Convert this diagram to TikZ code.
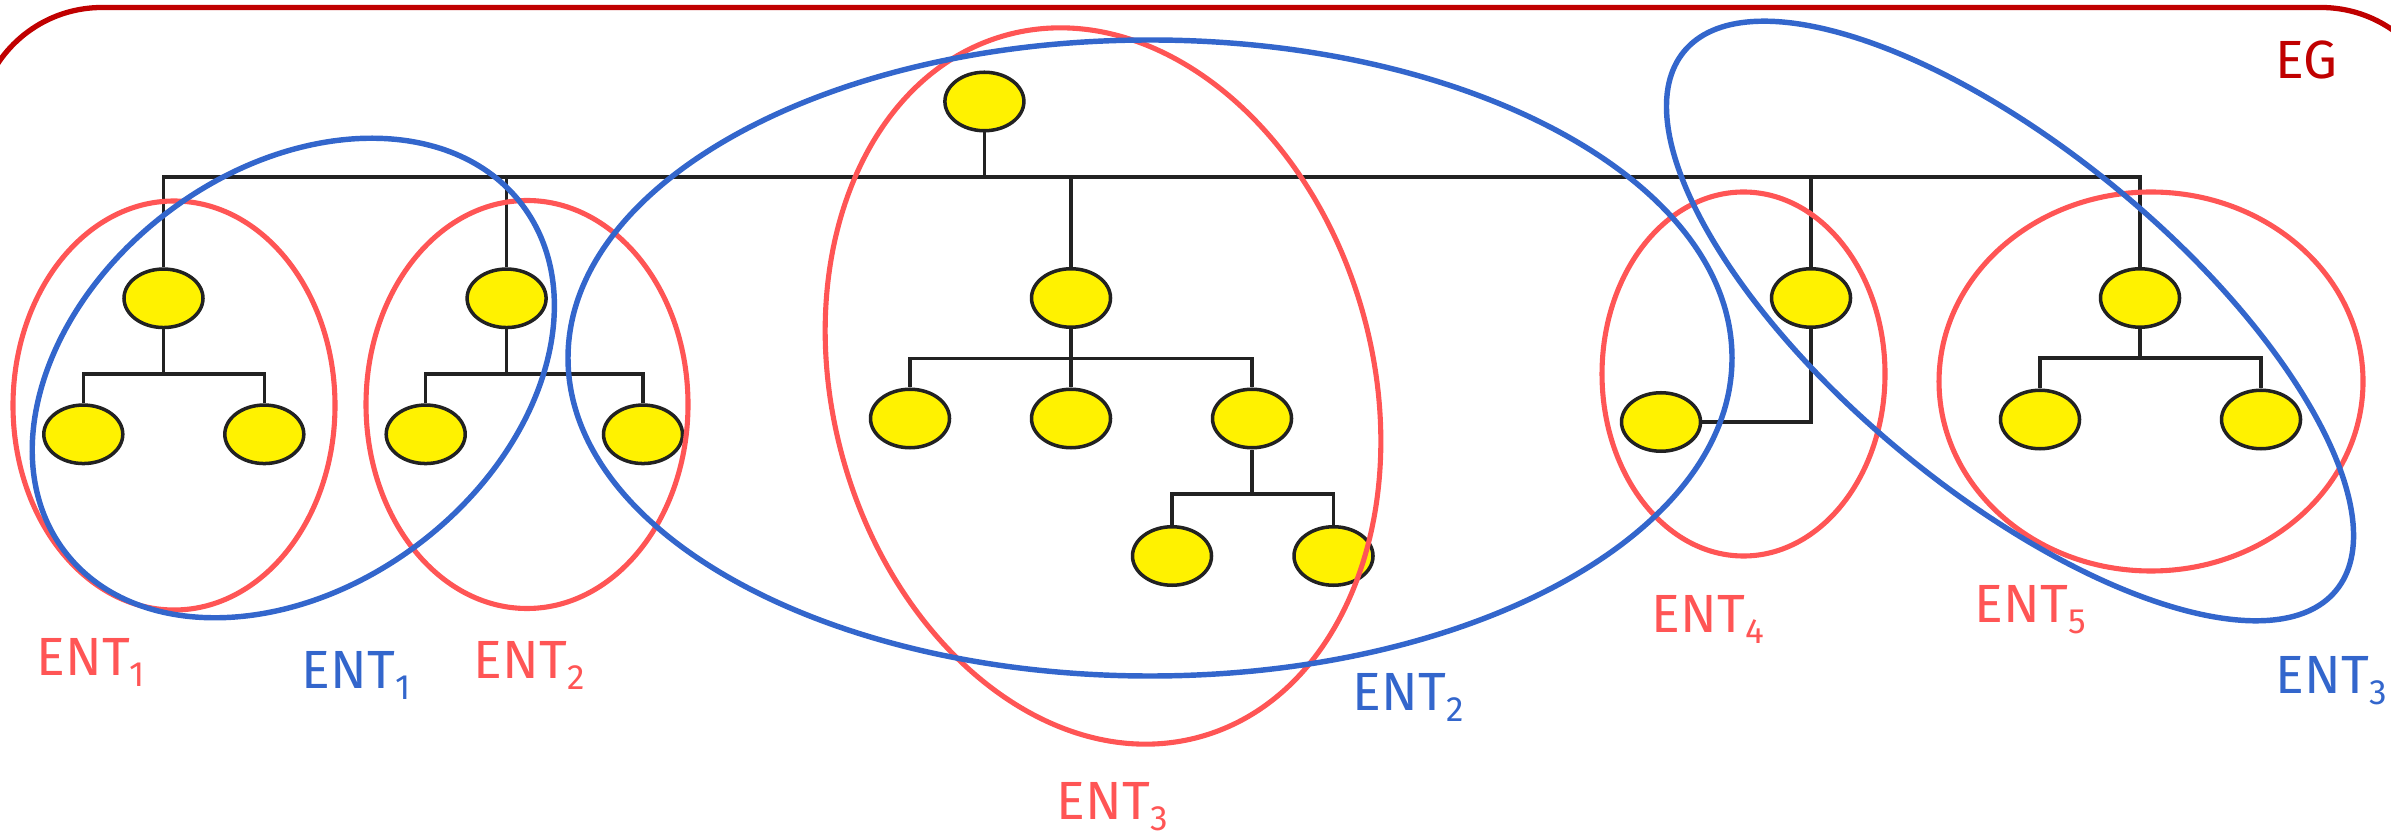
\documentclass[tikz,border=0pt]{standalone}
\usepackage{fontspec}
\setmainfont{Fira Sans}
\usetikzlibrary{shapes.geometric}
\definecolor{entred}{HTML}{FF5555}
\definecolor{entblue}{HTML}{3366CC}
\definecolor{egred}{HTML}{C00000}
\definecolor{treeline}{HTML}{222222}
\newcommand{\entlabel}[1]{ENT\raisebox{-3.4pt}{\fontsize{10}{12}\selectfont #1}}

\begin{document}
\begin{tikzpicture}[obj/.style={ellipse,draw=treeline,fill=yellow,line width=1pt,
                        minimum width=0.79cm,minimum height=0.585cm,inner sep=0pt},
                    link/.style={draw=treeline,line width=0.95pt},
                    redent/.style={draw=entred,line width=1.45pt},
                    blueent/.style={draw=entblue,line width=1.55pt},
                    lab/.style={anchor=base west,inner sep=0pt,font=\fontsize{15.3}{18}\selectfont}]
                        \useasboundingbox (0,0) rectangle (23.91,-8.38);
                        \clip (0,0) rectangle (23.91,-8.38);
                        \draw[egred,line width=1.5pt,rounded corners=1.25cm] (-0.23,-9.5) rectangle (24.46,-0.075);
                        \node[lab,text=egred] (eg) at (22.75,-0.79) {EG};
                        \node[obj] (r) at (9.844,-1.015) {};
                        \node[obj] (a1) at (1.635,-2.983) {};
                        \node[obj] (a2) at (5.066,-2.983) {};
                        \node[obj] (a3) at (10.71,-2.98) {};
                        \node[obj] (a4) at (18.11,-2.98) {};
                        \node[obj] (a5) at (21.40,-2.98) {};
                        \node[obj] (k11) at (0.833,-4.343) {};
                        \node[obj] (k12) at (2.643,-4.343) {};
                        \node[obj] (k21) at (4.257,-4.343) {};
                        \node[obj] (k22) at (6.43,-4.343) {};
                        \node[obj] (k31) at (9.10,-4.185) {};
                        \node[obj] (k32) at (10.71,-4.185) {};
                        \node[obj] (k33) at (12.52,-4.185) {};
                        \node[obj] (k331) at (11.72,-5.56) {};
                        \node[obj] (k332) at (13.335,-5.56) {};
                        \node[obj] (b4) at (16.61,-4.22) {};
                        \node[obj] (k51) at (20.40,-4.195) {};
                        \node[obj] (k52) at (22.61,-4.195) {};
                        \coordinate (j0) at (9.844,-1.77);
                        \coordinate (j1) at (1.635,-3.74);
                        \coordinate (j2) at (5.066,-3.74);
                        \coordinate (j3) at (10.71,-3.585);
                        \coordinate (j33) at (12.52,-4.94);
                        \coordinate (j5) at (21.40,-3.58);
                        \draw[link] (r) -- (j0);
                        \foreach \c in {a1,a2,a3,a4,a5} \draw[link] (\c) |- (j0);
                        \draw[link] (a1) -- (j1);
                        \foreach \c in {k11,k12} \draw[link] (\c) |- (j1);
                        \draw[link] (a2) -- (j2);
                        \foreach \c in {k21,k22} \draw[link] (\c) |- (j2);
                        \draw[link] (a3) -- (j3);
                        \foreach \c in {k31,k32,k33} \draw[link] (\c) |- (j3);
                        \draw[link] (k33) -- (j33);
                        \foreach \c in {k331,k332} \draw[link] (\c) |- (j33);
                        \draw[link] (a4) |- (b4);
                        \draw[link] (a5) -- (j5);
                        \foreach \c in {k51,k52} \draw[link] (\c) |- (j5);
                        \draw[redent] (1.74,-4.055) ellipse (1.61 and 2.045);
                        \draw[redent] (5.27,-4.045) ellipse (1.61 and 2.04);
                        \draw[redent,rotate around={15.5:(11.03,-3.86)}] (11.03,-3.86) ellipse (2.70 and 3.64);
                        \draw[redent] (17.435,-3.74) ellipse (1.415 and 1.82);
                        \draw[redent] (21.51,-3.815) ellipse (2.12 and 1.895);
                        \draw[blueent,rotate around={37.1:(2.933,-3.78)}] (2.933,-3.78) ellipse (2.87 and 2.08);
                        \draw[blueent] (11.50,-3.58) ellipse (5.82 and 3.18);
                        \draw[blueent,rotate around={-39.6:(20.10,-3.21)}] (20.10,-3.21) ellipse (4.23 and 1.70);
                        \node[lab,text=entred] (l1) at (0.36,-6.75) {\entlabel{1}};
                        \node[lab,text=entblue] (m1) at (3.01,-6.88) {\entlabel{1}};
                        \node[lab,text=entred] (l2) at (4.73,-6.78) {\entlabel{2}};
                        \node[lab,text=entblue] (m2) at (13.52,-7.10) {\entlabel{2}};
                        \node[lab,text=entred] (l3) at (10.56,-8.19) {\entlabel{3}};
                        \node[lab,text=entred] (l4) at (16.51,-6.32) {\entlabel{4}};
                        \node[lab,text=entred] (l5) at (19.74,-6.22) {\entlabel{5}};
                        \node[lab,text=entblue] (m3) at (22.75,-6.93) {\entlabel{3}};
                    \end{tikzpicture}
\end{document}
